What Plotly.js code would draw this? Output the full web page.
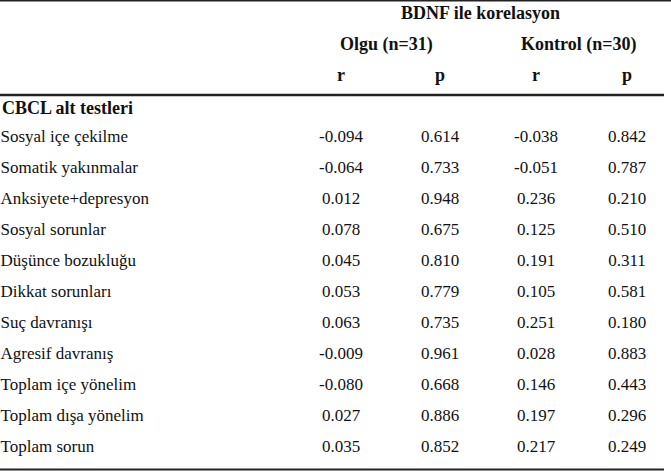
<!DOCTYPE html>
<html><head><meta charset="utf-8">
<script src="https://cdn.plot.ly/plotly-3.0.1.min.js"></script>
<style>body{margin:0;background:#fff}#c{width:671px;height:472px}</style>
</head><body><div id="c"></div>
<script>
const groupTitle = "BDNF ile korelasyon";
const groups = ["Olgu (n=31)", "Kontrol (n=30)"];
const subHeads = ["r", "p", "r", "p"];
const sectionTitle = "CBCL alt testleri";
const categories = ["Sosyal içe çekilme","Somatik yakınmalar","Anksiyete+depresyon","Sosyal sorunlar","Düşünce bozukluğu","Dikkat sorunları","Suç davranışı","Agresif davranış","Toplam içe yönelim","Toplam dışa yönelim","Toplam sorun"];
const olguR = ["-0.094","-0.064","0.012","0.078","0.045","0.053","0.063","-0.009","-0.080","0.027","0.035"];
const olguP = ["0.614","0.733","0.948","0.675","0.810","0.779","0.735","0.961","0.668","0.886","0.852"];
const kontrolR = ["-0.038","-0.051","0.236","0.125","0.191","0.105","0.251","0.028","0.146","0.197","0.217"];
const kontrolP = ["0.842","0.787","0.210","0.510","0.311","0.581","0.180","0.883","0.443","0.296","0.249"];

const FONT = "Liberation Serif";
const colX = [341, 440, 536, 627];
const rowY = i => 137.8 + i * 31;
const ys = categories.map((_, i) => rowY(i));
const txtFont = {family: FONT, size: 17, color: "#111"};

const traces = [];
traces.push({type:"scatter", mode:"text", x: categories.map(()=>0.5), y: ys, text: categories,
  textposition:"middle right", textfont: txtFont, hoverinfo:"skip", cliponaxis:false});
[olguR, olguP, kontrolR, kontrolP].forEach((arr, k) => {
  traces.push({type:"scatter", mode:"text", x: arr.map(()=>colX[k]), y: ys, text: arr,
    textposition:"middle center", textfont: txtFont, hoverinfo:"skip", cliponaxis:false});
});

const bold = {family: FONT, size: 18, color: "#111", weight: "bold"};
const ann = [];
ann.push({x: 480, y: 13, text: "<b>"+groupTitle+"</b>", xref:"x", yref:"y", showarrow:false, font: bold, xanchor:"center", yanchor:"middle"});
ann.push({x: 386, y: 44, text: "<b>"+groups[0]+"</b>", xref:"x", yref:"y", showarrow:false, font: bold});
ann.push({x: 578, y: 44, text: "<b>"+groups[1]+"</b>", xref:"x", yref:"y", showarrow:false, font: bold});
subHeads.forEach((s, k) => ann.push({x: colX[k], y: 75, text: "<b>"+s+"</b>", xref:"x", yref:"y", showarrow:false, font: bold}));
ann.push({x: 0, y: 107.5, text: "<b>"+sectionTitle+"</b>", xref:"x", yref:"y", showarrow:false, font: bold, xanchor:"left"});

const shapes = [
  {type:"line", xref:"x", yref:"y", x0:0, x1:671, y0:0.7, y1:0.7, line:{color:"#222", width:1.5}},
  {type:"line", xref:"x", yref:"y", x0:0, x1:664, y0:95, y1:95, line:{color:"#222", width:2.5}},
  {type:"line", xref:"x", yref:"y", x0:0, x1:664, y0:469.5, y1:469.5, line:{color:"#222", width:2.2}}
];

Plotly.newPlot("c", traces, {
  width: 671, height: 472, margin:{l:0,r:0,t:0,b:0},
  paper_bgcolor:"#fff", plot_bgcolor:"#fff", showlegend:false,
  xaxis:{range:[0,671], visible:false, fixedrange:true},
  yaxis:{range:[472,0], visible:false, fixedrange:true},
  annotations: ann, shapes: shapes
}, {staticPlot:true});
</script></body></html>
